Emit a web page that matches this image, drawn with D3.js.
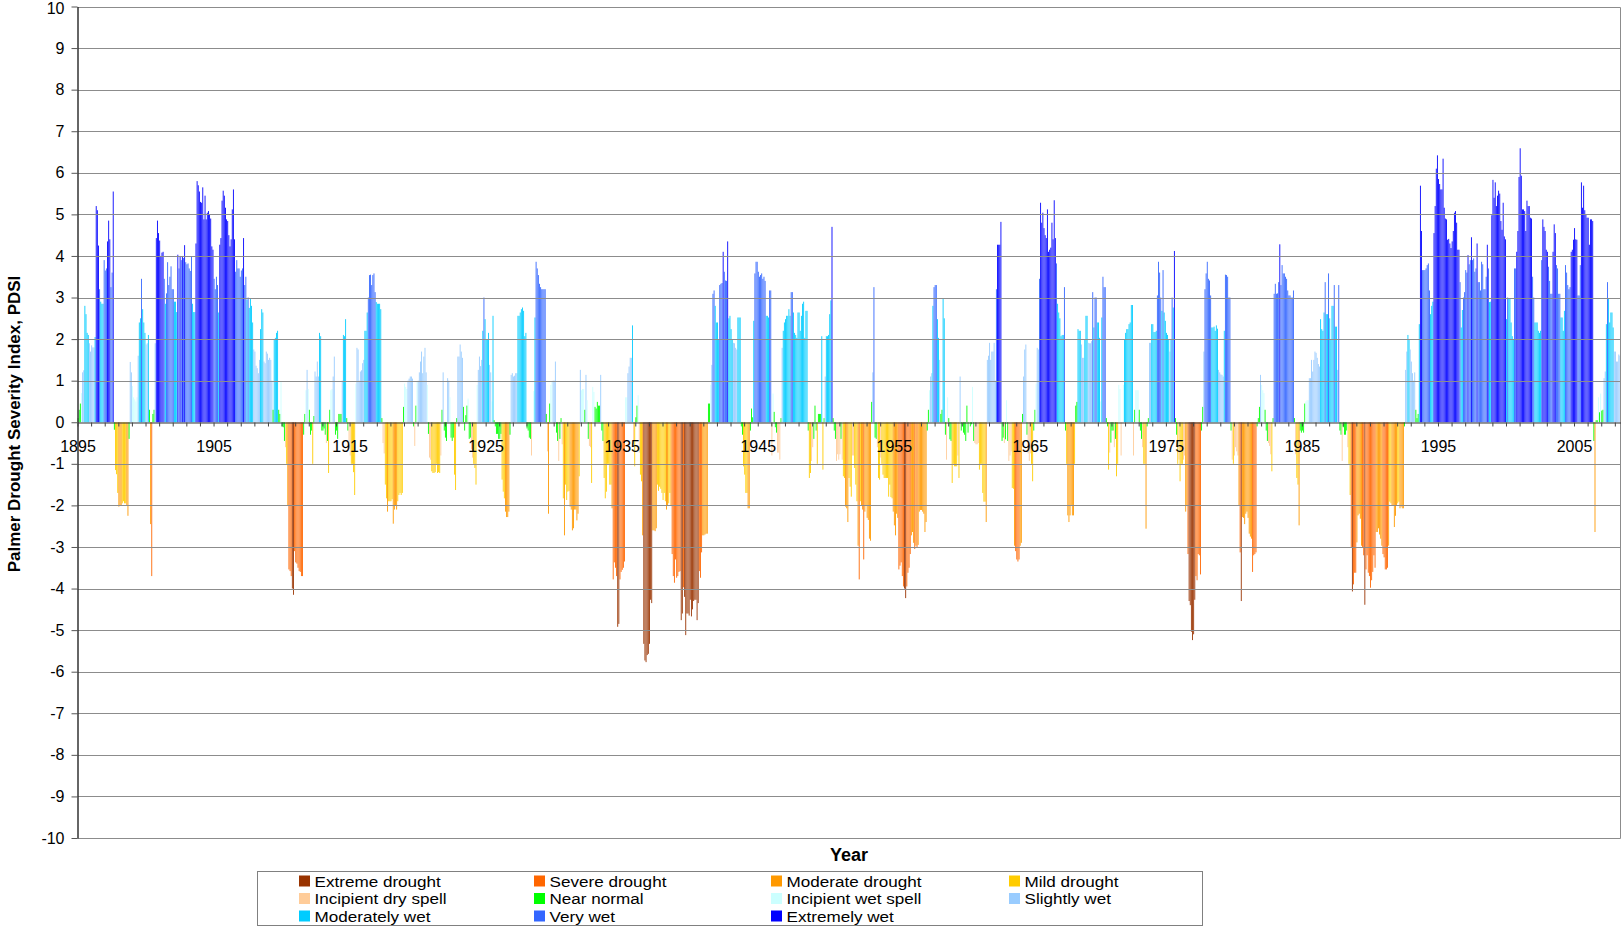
<!DOCTYPE html>
<html><head><meta charset="utf-8">
<script src="https://cdn.jsdelivr.net/npm/d3@7/dist/d3.min.js"></script>
<style>
body{margin:0;background:#fff;}
svg{display:block;font-family:"Liberation Sans",Arial,Helvetica,sans-serif;}
</style>
</head><body>
<svg id="chart" width="1623" height="927"></svg>
<script>
// Monthly PDSI values (Jan 1895 ... May 2008)
const pdsi1895 = [
 0.1,0.3,0.45,0.7,1.2,1.25,2.8,2.6,2.15,2.1,1.9,1.7,
 1.85,1.8,1.8,2.05,5.2,5.1,4.25,3.2,2.9,2.85,2.85,3.9,
 3.65,3.7,4.35,4.85,4.4,3.25,3.6,5.55,-0.18,-1.15,-1.25,-1.7,
 -2.03,-2.0,-2.0,-1.95,-1.9,-1.95,-1.95,-2.0,-2.25,-0.4,1.45,1.2,
 0.87,0.6,0.55,0.5,0.6,1.6,2.4,2.5,3.45,2.72,2.4,2.15,
 1.87,1.9,2.1,0.3,-2.45,-3.7,0.2,0.3,1.9,4.43,4.85,4.55,
 4.37,4.0,4.08,4.1,3.45,2.85,3.1,3.85,3.3,3.5,3.75,3.2,
 3.2,2.9,2.9,2.65,4.03,3.7,4.0,3.9,4.0,3.95,4.26,3.85,
 3.8,3.82,3.7,3.64,3.98,2.85,2.65,2.65,4.3,5.8,5.7,5.55,
 5.3,5.28,5.65,4.88,5.45,4.88,5.04,5.08,5.0,4.9,4.23,4.15];
const pdsi1905 = [
 3.45,3.2,3.5,3.3,2.64,4.27,4.43,5.33,5.57,5.45,5.16,4.88,
 4.84,4.5,4.23,4.4,5.12,5.6,4.4,3.62,3.9,3.7,3.7,3.5,
 3.65,3.7,4.43,3.3,3.5,2.95,3.0,2.75,2.97,2.8,2.4,1.75,
 1.7,1.36,1.3,1.18,1.5,2.24,2.72,2.64,1.46,1.42,1.7,1.65,
 1.5,1.55,1.5,1.0,0.3,2.0,2.03,2.15,2.2,0.3,0.2,0.97,
 -0.1,-0.12,-0.45,-0.6,-1.0,-2.0,-3.54,-3.58,-3.7,-4.0,-4.15,-3.1,
 -3.37,-3.4,-3.5,-3.58,-3.6,-3.7,-3.7,-0.3,0.2,0.77,1.26,0.8,
 0.3,-0.3,-0.2,-1.0,0.15,1.22,1.1,1.46,1.1,2.15,2.07,-0.2,
 -0.2,-0.15,-0.3,-0.5,-0.45,-1.22,0.3,0.77,0.8,1.1,1.58,-0.3,
 -0.2,-0.4,0.2,0.2,0.2,1.0,2.1,2.07,2.48,0.1,-0.2,-0.5];
const pdsi1915 = [
 -0.8,-1.0,-1.0,-1.2,-1.75,0.93,1.79,1.75,1.0,1.22,1.25,1.42,
 1.5,2.2,2.2,2.64,3.0,3.54,3.55,3.3,3.54,3.58,3.13,2.89,
 2.85,2.85,2.85,2.72,0.1,-0.5,-0.75,-1.5,-1.83,-2.15,-1.9,-1.9,
 -1.9,-1.85,-2.44,-2.1,-2.0,-2.1,-1.9,-1.75,-1.7,-1.75,-1.7,0.37,
 0.93,0.85,0.8,1.0,1.05,1.1,1.1,1.05,-0.1,-0.57,0.4,0.97,
 1.0,1.2,1.46,1.7,1.18,1.58,1.79,1.2,0.9,-0.28,-0.85,-0.9,
 -1.18,-1.22,-1.22,-1.2,-1.0,-1.22,-1.2,-1.22,-0.8,0.3,1.2,-0.2,
 -0.37,-0.45,1.06,1.0,0.6,-0.37,-0.45,-0.37,-1.26,-1.63,0.1,1.58,
 1.58,1.87,1.7,1.55,0.37,-0.2,0.17,0.4,0.57,-0.4,-0.37,-0.65,
 -0.85,-1.0,-1.1,-1.5,0.9,1.26,1.58,1.35,1.5,2.2,3.0,2.48];
const pdsi1925 = [
 2.0,2.0,2.15,1.38,1.2,0.5,2.56,0.05,-0.1,-0.28,-0.28,-0.4,
 -0.4,-0.28,-1.38,-1.67,-1.83,-2.15,-2.28,-2.28,-2.15,-0.3,1.14,1.18,
 1.1,1.12,1.18,1.18,2.56,2.56,2.64,2.72,2.76,2.68,2.07,2.15,
 -0.15,-0.2,-0.37,-0.4,-0.8,0.0,0.75,2.52,3.86,3.7,3.54,3.33,
 3.25,3.2,3.2,3.2,3.2,0.2,-0.7,-2.2,0.45,0.9,0.97,1.0,
 1.0,1.46,-0.25,-0.45,-0.93,-0.4,0.1,-0.53,-1.83,-2.72,-1.5,-1.87,
 -1.67,-1.65,-2.03,-2.1,-2.6,-2.55,-2.1,-2.1,-2.36,-2.2,-1.3,1.26,
 0.77,0.8,0.8,0.3,1.14,0.53,-0.4,-0.57,-0.6,-1.46,0.85,0.73,
 0.37,0.33,0.49,0.4,0.4,1.14,-0.2,-0.45,-1.34,-1.83,-1.67,-1.0,
 -1.0,-1.5,-1.5,-2.07,-3.78,-3.37,-3.5,-3.7,-4.92,-4.85,-3.78,-3.6];
const pdsi1935 = [
 -3.55,-3.5,-3.35,0.6,0.6,1.18,1.34,1.55,1.55,2.33,-0.53,-1.06,
 0.12,0.4,0.65,-0.73,-1.26,-1.42,-2.72,-5.33,-5.73,-5.77,-5.6,-5.57,
 -5.33,-4.27,-4.35,-2.6,-2.6,-2.62,-2.55,-1.5,-1.65,-1.55,-1.6,-1.7,
 -1.87,-1.7,-1.9,-2.1,-2.0,-1.95,-1.7,-2.0,-3.17,-3.7,-3.86,-3.3,
 -3.74,-3.7,-3.6,-3.58,-4.76,-4.6,-3.97,-4.2,-5.12,-4.6,-4.6,-4.65,
 -4.27,-4.67,-4.5,-4.3,-4.27,-4.27,-4.76,-4.35,-3.58,-3.74,-3.13,-2.72,
 -2.72,-2.7,-2.68,-2.68,0.45,0.45,0.9,1.38,3.09,3.17,2.8,2.4,
 2.4,2.0,3.3,3.33,3.35,4.1,3.62,3.41,3.4,4.35,2.5,2.56,
 2.24,2.0,1.91,1.9,1.79,1.75,2.52,2.52,2.52,-0.1,-0.3,-1.06,
 -1.26,-1.7,-1.7,-2.07,-2.07,-0.2,0.33,0.12,2.44,3.58,3.86,3.86];
const pdsi1945 = [
 3.62,3.5,3.54,3.58,3.45,3.5,3.4,2.56,2.56,2.52,3.17,3.17,
 -0.8,0.69,0.25,-0.12,-0.25,-0.73,-0.73,-0.9,0.1,1.79,2.2,2.4,
 2.48,2.56,2.56,2.72,2.56,3.13,3.13,2.64,2.15,2.1,2.03,2.64,
 2.64,2.2,2.56,2.85,2.9,2.03,2.68,2.68,-0.2,-1.34,-1.22,-0.93,
 -0.6,-0.4,0.4,-0.2,-1.0,0.2,0.2,0.2,2.07,-1.14,0.1,1.1,
 2.07,2.07,2.1,2.6,2.93,4.7,0.1,-0.2,-0.4,-0.93,-0.77,-0.9,
 -0.77,-0.4,-0.9,-1.3,-1.34,-2.03,-2.07,-2.4,-1.34,-1.55,-1.79,-0.8,
 -0.8,-1.1,-1.5,-1.9,-2.97,-3.78,-1.9,-2.0,-2.1,-3.3,-2.15,-2.0,
 -2.3,-2.35,-2.8,-2.85,0.49,1.2,3.25,-0.37,-0.4,-0.6,-1.34,-1.38,
 -0.85,-1.0,-1.26,-1.34,-1.34,-1.34,-1.34,-1.79,-1.5,-1.8,-1.83,-2.15];
const pdsi1955 = [
 -2.48,-2.72,-2.2,-2.3,-3.54,-3.45,-3.37,-3.7,-3.95,-4.0,-4.23,-3.95,
 -3.62,-3.5,-3.17,-2.72,-2.64,-2.9,-3.05,-2.97,-3.0,-2.95,-2.15,-2.11,
 -2.11,-2.15,-2.2,-2.64,-2.4,-0.2,0.3,0.77,1.1,1.18,2.8,3.25,
 3.3,3.3,2.48,2.03,1.5,0.2,0.3,2.97,2.5,-0.3,-0.9,0.6,
 0.1,-0.41,-0.45,-1.46,-1.0,-1.06,-1.06,-1.06,-0.8,-1.34,1.1,-0.2,
 0.0,-0.25,-0.3,-0.45,0.4,-0.25,0.0,-0.1,-0.05,0.85,-0.45,-0.5,
 -0.53,-0.53,-0.5,-1.14,-1.0,-1.0,-1.7,-1.91,-1.91,-2.4,1.5,1.6,
 1.91,1.5,1.7,1.7,1.91,1.0,3.2,4.27,4.27,4.27,4.82,-0.45,
 -0.37,-0.5,-0.41,0.53,-0.45,-0.93,-0.8,-0.7,-1.58,-1.6,-2.97,-3.1,
 -3.3,-3.35,-3.3,-2.97,-2.9,0.2,1.1,1.75,1.87,-0.3,-0.75,-0.93];
const pdsi1965 = [
 -0.75,-1.0,-1.42,-0.2,0.3,0.93,1.79,1.75,3.45,5.28,4.8,5.04,
 4.67,4.5,4.43,5.12,4.1,4.15,4.2,4.8,4.4,5.34,4.43,3.82,
 2.85,2.64,2.5,2.07,2.1,2.1,3.25,-0.2,-1.0,-2.24,-2.4,-2.24,
 -2.0,-2.24,-2.24,-1.0,0.4,0.49,2.24,2.2,2.2,1.87,1.55,1.55,
 2.0,2.56,2.56,1.91,1.9,1.9,1.95,3.13,2.28,3.0,3.0,2.4,
 2.4,2.03,0.5,2.52,3.5,3.25,3.25,0.1,-0.1,-1.14,-0.73,-0.49,
 -0.2,-0.2,-0.6,-0.4,-1.3,-1.0,0.9,0.8,-0.8,0.0,0.9,2.0,
 2.15,2.24,2.24,2.36,2.4,2.82,2.82,-0.8,0.3,0.77,0.77,0.77,
 0.3,-0.2,-0.4,-0.6,-1.0,-1.0,-2.56,-0.1,0.1,1.91,1.91,2.36,
 2.36,2.17,2.17,2.2,3.05,3.86,3.6,3.0,2.68,3.66,2.64,2.44];
const pdsi1975 = [
 2.15,2.1,2.0,1.7,2.0,3.0,2.76,4.12,0.1,-0.3,-1.0,-0.9,
 -1.42,-1.0,-1.0,-0.9,-0.8,-2.15,-2.0,-3.17,-4.3,-4.4,-5.04,-5.24,
 -5.1,-4.27,-3.7,-3.8,-3.17,-3.2,-3.66,-0.2,0.37,1.7,3.2,3.58,
 3.86,3.45,3.41,3.05,2.28,2.28,2.3,2.2,2.33,2.25,1.26,1.2,
 1.15,1.14,1.1,2.2,3.55,3.54,3.5,3.0,3.0,-0.2,-0.9,-1.0,
 -0.8,-0.6,-0.7,-0.8,-2.0,-3.13,-4.3,-2.28,-2.3,-2.45,-2.2,-2.15,
 -2.3,-2.68,-2.75,-2.8,-3.6,-3.2,-3.17,-3.13,-0.1,0.1,0.37,1.14,
 0.9,0.77,0.7,0.3,-0.2,-0.45,-0.5,-0.57,-0.77,-1.18,0.1,3.09,
 3.33,3.09,3.1,3.37,4.28,3.3,3.78,3.58,3.58,3.5,3.45,3.17,
 3.05,3.05,3.0,3.0,3.17,0.1,-0.77,-1.34,-1.5,-2.48,-0.2,-0.25];
const pdsi1985 = [
 -0.2,-0.25,0.45,0.5,0.53,0.53,1.06,1.06,1.5,1.22,1.5,1.7,
 1.67,1.55,1.4,1.34,2.48,2.24,2.2,2.64,3.37,2.6,2.6,3.58,
 2.5,2.0,2.8,2.8,3.3,2.3,2.3,1.26,3.3,-0.2,-0.3,-0.93,
 -0.12,-0.3,-0.3,-0.2,-0.6,-1.0,-1.75,-3.0,-4.07,-3.9,-3.62,-3.62,
 -2.89,-2.24,-2.2,-2.32,-2.97,-3.0,-3.2,-4.39,-3.54,-3.2,-3.62,-3.7,
 -3.98,-3.8,-3.6,-3.2,-3.5,-2.64,-2.64,-2.55,-2.7,-2.8,-2.97,-3.17,
 -3.25,-3.54,-3.54,-3.5,-2.97,-1.91,-1.95,-2.0,-2.0,-2.52,-2.25,-2.0,
 -1.95,-1.91,-2.07,-2.03,-2.07,-2.07,-0.1,1.26,1.7,2.1,2.0,1.75,
 1.46,1.18,1.0,1.2,0.3,0.1,0.2,2.36,5.69,4.6,3.66,3.66,
 3.66,3.7,3.78,3.82,3.17,2.6,2.8,2.9,4.55,5.2,6.1,6.42];
const pdsi1995 = [
 5.85,5.73,5.6,5.6,6.34,5.16,4.9,4.88,4.39,4.41,4.3,4.19,
 4.35,4.6,5.04,5.08,4.8,4.15,4.15,3.37,2.28,2.7,3.0,3.13,
 3.66,3.6,4.02,3.8,3.9,4.45,3.9,3.94,3.62,3.7,4.3,3.37,
 3.37,3.17,3.86,3.8,3.2,3.2,3.5,4.27,3.7,2.89,2.9,4.98,
 5.83,5.4,5.77,5.2,5.45,5.57,5.5,4.84,4.63,5.28,4.47,4.4,
 2.48,3.0,2.97,2.97,2.4,2.07,2.0,3.7,3.7,4.1,4.6,5.9,
 6.59,5.93,5.12,5.12,5.08,4.6,5.33,5.2,5.2,4.92,4.9,3.5,
 3.0,2.4,2.4,2.4,2.2,2.15,2.2,3.9,4.88,4.7,4.6,4.15,
 4.1,3.74,3.4,3.09,3.09,4.1,4.76,4.55,3.78,3.7,3.09,3.09,
 2.52,2.52,2.2,2.68,3.78,3.6,3.3,3.2,3.25,4.1,4.15,4.39];
const pdsi2005 = [
 4.67,4.4,4.39,3.05,3.05,3.78,5.77,5.16,5.69,5.1,5.0,4.92,
 4.92,4.27,4.88,4.88,4.84,-0.45,-2.64,0.05,0.05,0.6,0.24,0.69,
 0.28,0.3,1.06,1.22,2.36,3.37,2.97,2.4,2.64,2.64,2.28,1.7,
 1.7,1.46,1.46,1.63,1.6];

const startYear = 1895;
const yearLabels = ["1895","1905","1915","1925","1935","1945","1955","1965","1975","1985","1995","2005"];
const yTicks = [10,9,8,7,6,5,4,3,2,1,0,-1,-2,-3,-4,-5,-6,-7,-8,-9,-10];
const categories = ["Extreme drought","Severe drought","Moderate drought","Mild drought",
  "Incipient dry spell","Near normal","Incipient wet spell","Slightly wet",
  "Moderately wet","Very wet","Extremely wet"];
const categoryColors = ["#993300","#FF6600","#FF9900","#FFCC00","#FFCC99","#00FF00",
  "#CCFFFF","#99CCFF","#00CCFF","#3366FF","#0000FF"];
const classBreaks = [-3.995,-2.995,-1.995,-0.995,-0.495,0.5,1.0,2.0,3.0,4.0];

const values = [].concat(pdsi1895,pdsi1905,pdsi1915,pdsi1925,pdsi1935,pdsi1945,
  pdsi1955,pdsi1965,pdsi1975,pdsi1985,pdsi1995,pdsi2005);

const svg = d3.select("#chart");
const plot = {left:77.5, right:1620.5, top:6.5, bottom:838};
const x = d3.scaleLinear().domain([0, values.length]).range([plot.left, plot.right]);
const y = d3.scaleLinear().domain([-10,10]).range([plot.bottom, plot.top]);
const color = d3.scaleThreshold().domain(classBreaks).range(categoryColors);
const barFill = 0.78; // share of each month slot covered by its bar

// bars
svg.append("g").selectAll("rect").data(values).join("rect")
  .attr("x",(d,i)=>x(i)+(x(i+1)-x(i))*(1-barFill)/2)
  .attr("width",(d,i)=>(x(i+1)-x(i))*barFill)
  .attr("y",d=>y(Math.max(0,d)))
  .attr("height",d=>Math.abs(y(d)-y(0)))
  .attr("fill",d=>color(d));

// horizontal gridlines
svg.append("g").selectAll("line").data(yTicks.filter(t=>t!==0)).join("line")
  .attr("x1",plot.left).attr("x2",plot.right)
  .attr("y1",d=>Math.round(y(d))+0.5).attr("y2",d=>Math.round(y(d))+0.5)
  .attr("stroke","#8c8c8c").attr("stroke-width",1);
// right border
svg.append("line").attr("x1",plot.right).attr("x2",plot.right)
  .attr("y1",Math.round(y(10))+0.5).attr("y2",Math.round(y(-10))+0.5)
  .attr("stroke","#8c8c8c");

// y axis
const yAxis = d3.axisLeft(y).tickValues(yTicks).tickSize(6).tickPadding(7).tickSizeOuter(0)
  .tickFormat(d=>String(d));
const gy = svg.append("g").attr("transform",`translate(${plot.left},0)`).call(yAxis);
gy.selectAll("line").attr("stroke","#555");
gy.select(".domain").attr("stroke","#333").attr("stroke-width",1.5);
gy.selectAll("text").attr("font-size",16).attr("fill","#000")
  .attr("font-family","Liberation Sans, Arial, sans-serif");
gy.selectAll(".tick").filter(d=>d===10).select("text").attr("dy","0.42em");

// x axis along zero line
const tickMonths = d3.range(0, values.length, 12);
const xAxis = d3.axisBottom(x).tickValues(tickMonths).tickSize(4).tickSizeOuter(0)
  .tickFormat(m => (m/12)%10===0 ? yearLabels[(m/12)/10] : "");
const gx = svg.append("g").attr("transform",`translate(0,${Math.round(y(0))+0.5})`).call(xAxis);
gx.select(".domain").attr("stroke","#333").attr("stroke-width",1.2);
gx.selectAll("line").attr("stroke","#444");
gx.selectAll("text").attr("font-size",16).attr("fill","#000").attr("y",29).attr("dy",null)
  .attr("font-family","Liberation Sans, Arial, sans-serif");

// axis titles
svg.append("text").attr("transform","translate(20,424) rotate(-90)")
  .attr("text-anchor","middle").attr("font-weight","bold").attr("font-size",17)
  .text("Palmer Drought Severity Index, PDSI");
svg.append("text").attr("x",(plot.left+plot.right)/2).attr("y",861)
  .attr("text-anchor","middle").attr("font-weight","bold").attr("font-size",18)
  .text("Year");

// legend
const lg = svg.append("g");
lg.append("rect").attr("x",257.5).attr("y",871.5).attr("width",945).attr("height",54)
  .attr("fill","#fff").attr("stroke","#808080");
const colX = [299, 534, 771, 1009];
const rowY = [881, 898.5, 916];
const items = lg.selectAll("g.item").data(categories).join("g").attr("class","item")
  .attr("transform",(d,i)=>`translate(${colX[i%4]},${rowY[Math.floor(i/4)]})`);
items.append("rect").attr("x",0).attr("y",-5.5).attr("width",11).attr("height",11)
  .attr("fill",(d,i)=>categoryColors[i]);
items.append("text").attr("transform","translate(15.5,5.5) scale(1.14,1)")
  .attr("font-size",15).text(d=>d);
</script>
</body></html>
